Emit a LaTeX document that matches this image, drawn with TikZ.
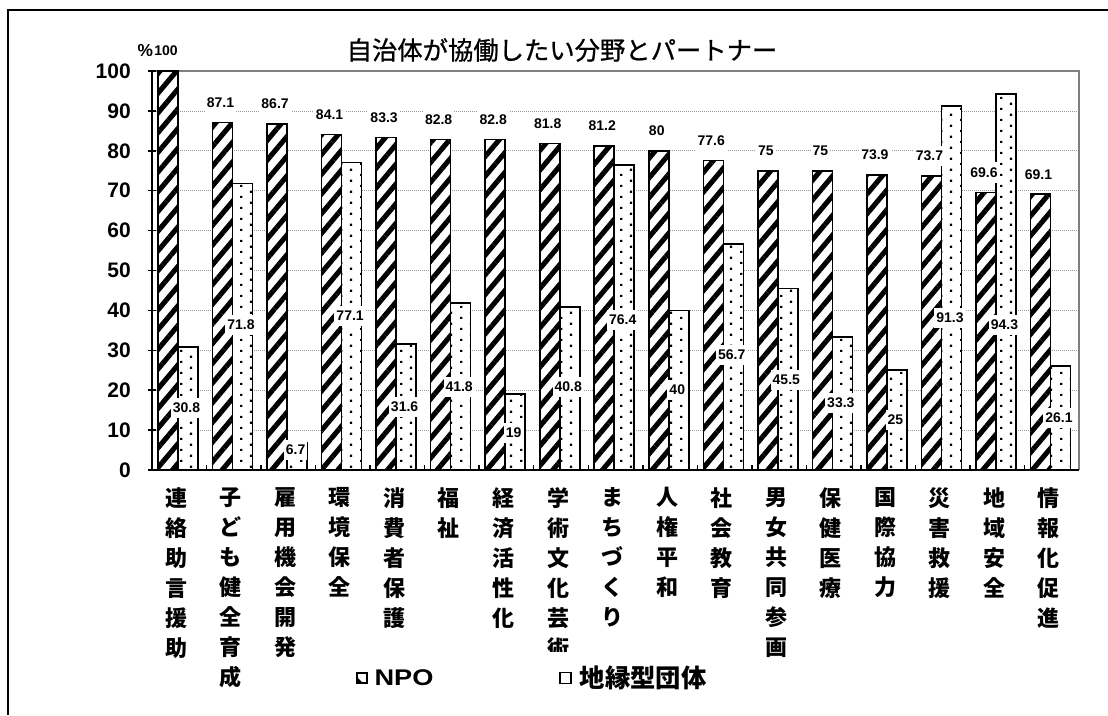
\documentclass[tikz,border=0pt]{standalone}
\usepackage{fontspec}
\setmainfont{Liberation Sans}
\newfontfamily\jpfont{Noto Sans CJK JP}
\newfontfamily\titlefont[FakeBold=0.8]{Noto Sans CJK JP}
\newfontfamily\widelatin[FakeStretch=1.2]{Liberation Sans}
\usepackage{tikz}
\usetikzlibrary{patterns.meta, positioning}

\tikzdeclarepattern{
  name=chiikidots,
  type=uncolored,
  bounding box={(0pt,0pt) and (15pt,8.25pt)},
  tile size={(15pt,8.25pt)},
  code={
    \pgfpathrectangle{\pgfpoint{0pt}{0pt}}{\pgfpoint{1.8pt}{1.8pt}}
    \pgfpathrectangle{\pgfpoint{7.5pt}{4.125pt}}{\pgfpoint{1.8pt}{1.8pt}}
    \pgfusepath{fill}
  }
}

\begin{document}
\begin{tikzpicture}[
    x=0.75pt, y=-0.75pt,
    npobar/.style={draw=black, line width=1.2pt, preaction={fill=white},
                   pattern={Lines[angle=50, distance=9.5pt, line width=3.8pt]}},
    chiikibar/.style={draw=black, line width=1.2pt, preaction={fill=white},
                      pattern=chiikidots},
    gridline/.style={gray!80, line width=0.5pt, densely dotted},
    axisline/.style={black, line width=1.1pt},
    ticklabel/.style={anchor=east, inner sep=0pt, font=\bfseries\fontsize{15.75}{18}\selectfont},
    vallabel/.style={fill=white, inner xsep=1.5pt, inner ysep=4pt,
                     font=\bfseries\fontsize{10.5}{12}\selectfont},
    catlabel/.style={anchor=north, align=center, inner sep=0pt,
                     font=\jpfont\bfseries\fontsize{16.5}{22.5}\selectfont}
]
    \useasboundingbox (0,0) rectangle (1108,715);
    \draw[line width=1.5pt] (8,715) -- (8,10) -- (1108,10);

    % title
    \node[font=\titlefont\fontsize{19}{22}\selectfont] (title) at (562,50) {自治体が協働したい分野とパートナー};

    % grid and plot area
    \foreach \v in {10,20,...,90}
        \draw[gridline] (152,{470-3.99*\v}) -- (1079,{470-3.99*\v});
    \draw[gray, line width=0.8pt] (152,71) -- (1079,71) -- (1079,470);

    % bars
    \foreach \n/\g [count=\i] in {100/30.8, 87.1/71.8, 86.7/6.7, 84.1/77.1, 83.3/31.6, 82.8/41.8,
                                  82.8/19, 81.8/40.8, 81.2/76.4, 80/40, 77.6/56.7, 75/45.5,
                                  75/33.3, 73.9/25, 73.7/91.3, 69.6/94.3, 69.1/26.1} {
        \pgfmathsetmacro\xl{152+(\i-1)*54.53}
        \draw[npobar] (\xl+6,470) rectangle (\xl+26,{470-3.99*\n});
        \draw[chiikibar] (\xl+26,470) rectangle (\xl+46,{470-3.99*\g});
    }

    % axes
    \draw[axisline] (152,470) -- (152,71);
    \foreach \v in {0,10,...,100} {
        \draw[axisline] (148,{470-3.99*\v}) -- (156,{470-3.99*\v});
        \node[ticklabel] (t\v) at (131,{470-3.99*\v}) {\v};
    }
    \draw[axisline, line width=1.6pt] (152,470) -- (1079,470);
    \foreach \k in {1,...,16}
        \draw[axisline] (152+\k*54.53,470) -- (152+\k*54.53,465);

    % data labels
    \foreach \n/\g/\gy [count=\i] in {100/30.8/408, 87.1/71.8/325, 86.7/6.7/450, 84.1/77.1/316,
                                      83.3/31.6/407, 82.8/41.8/387, 82.8/19/433, 81.8/40.8/387,
                                      81.2/76.4/320, 80/40/390, 77.6/56.7/355, 75/45.5/380,
                                      75/33.3/403, 73.9/25/420, 73.7/91.3/318, 69.6/94.3/325,
                                      69.1/26.1/418} {
        \pgfmathsetmacro\xl{152+(\i-1)*54.53}
        \node[vallabel] (n\i) at (\xl+14,{470-3.99*\n-20}) {\n};
        \node[vallabel] (g\i) at (\xl+34.5,\gy) {\g};
    }
    \node[inner sep=0pt, left=-1pt of n1, font=\bfseries\fontsize{13}{15}\selectfont] (pct) {\%};

    % category labels
    \foreach \t [count=\i] in {{連\\絡\\助\\言\\援\\助}, {子\\ど\\も\\健\\全\\育\\成},
                               {雇\\用\\機\\会\\開\\発}, {環\\境\\保\\全}, {消\\費\\者\\保\\護},
                               {福\\祉}, {経\\済\\活\\性\\化}, {学\\術\\文\\化\\芸\\術},
                               {ま\\ち\\づ\\く\\り}, {人\\権\\平\\和}, {社\\会\\教\\育},
                               {男\\女\\共\\同\\参\\画}, {保\\健\\医\\療}, {国\\際\\協\\力},
                               {災\\害\\救\\援}, {地\\域\\安\\全}, {情\\報\\化\\促\\進}} {
        \pgfmathsetmacro\xl{152+(\i-1)*54.53}
        \node[catlabel] (c\i) at (\xl+24.3,487) {\t};
    }

    % legend
    \fill[white] (340,652) rectangle (735,706);
    \node[draw, line width=1pt, minimum size=7.5pt, inner sep=0pt, fill=white] (mnpo) at (362,678) {};
    \fill (mnpo.south west) -- ([yshift=5.5pt]mnpo.south west) -- ([xshift=5.5pt]mnpo.south west) -- cycle;
    \node[right=5pt of mnpo, inner sep=0pt, font=\widelatin\bfseries\fontsize{17}{20}\selectfont] (lnpo) {NPO};
    \node[draw, line width=1.2pt, minimum size=8pt, inner sep=0pt, fill=white] (mchiiki) at (565.5,678) {};
    \node[right=6pt of mchiiki, inner sep=0pt, font=\jpfont\bfseries\fontsize{19}{22}\selectfont] (lchiiki) {地縁型団体};
\end{tikzpicture}
\end{document}
